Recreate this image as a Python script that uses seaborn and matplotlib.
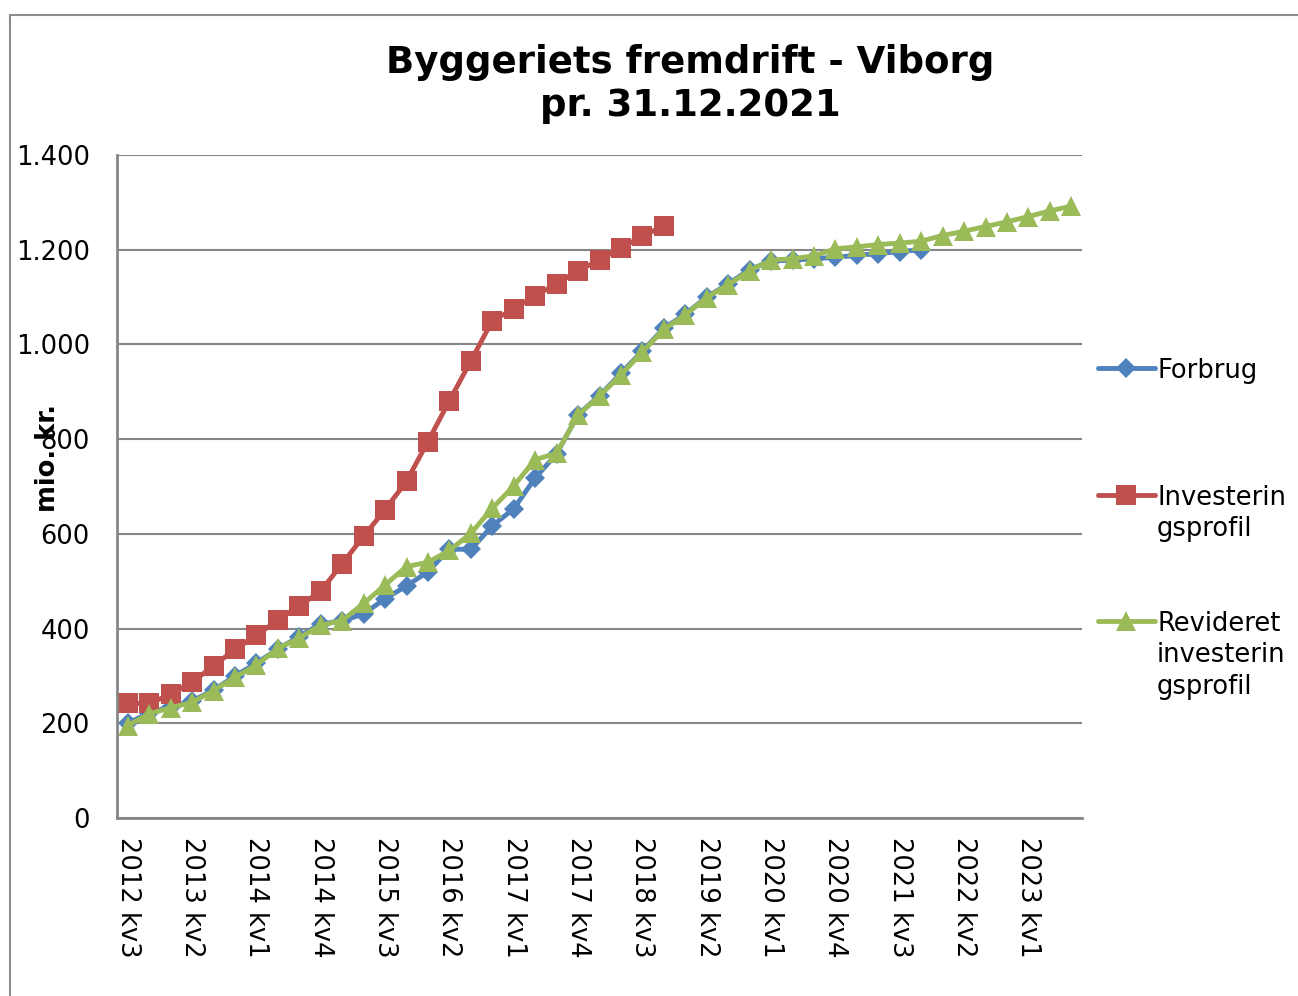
import numpy as np
import matplotlib
matplotlib.use("Agg")
import matplotlib.pyplot as plt
from matplotlib.lines import Line2D
from matplotlib.patches import Rectangle
from matplotlib.ticker import FuncFormatter
import seaborn as sns

W, H = 1298, 996

# kvartaler 2012 kv3 .. 2023 kv3
quarters = [f"{y} kv{q}" for y in range(2012, 2024) for q in range(1, 5)][2:47]

# mio. kr.
forbrug = [200, 222, 235, 247, 270, 300, 327, 357, 383, 410,
           416, 431, 463, 490, 520, 568, 567, 617, 653, 718,
           769, 852, 892, 939, 986, 1034, 1064, 1100, 1128, 1158,
           1176, 1178, 1181, 1184, 1188, 1192, 1196, 1200]
investering = [242, 242, 261, 287, 321, 356, 386, 418, 448, 479,
               537, 595, 651, 711, 795, 881, 965, 1050, 1075, 1103,
               1128, 1155, 1179, 1204, 1228, 1251]
revideret = [195, 220, 233, 244, 269, 297, 323, 358, 380, 407,
             417, 453, 492, 531, 540, 565, 601, 654, 701, 757,
             770, 851, 891, 936, 984, 1032, 1062, 1099, 1126, 1156,
             1178, 1181, 1187, 1202, 1206, 1211, 1214, 1218, 1230, 1239,
             1249, 1259, 1270, 1282, 1292]

sns.set_style("white")
plt.rcParams['font.family'] = ['DejaVu Sans']
plt.rcParams['text.color'] = 'black'
plt.rcParams['xtick.color'] = 'black'
plt.rcParams['ytick.color'] = 'black'
FS = 18.5
GRAY = '#868686'

fig = plt.figure(figsize=(W / 100, H / 100), dpi=100)
ax = fig.add_axes([117 / W, 1 - 818 / H, (1082 - 117) / W, (818 - 155) / H])

series = [
    ("Forbrug", forbrug, "#4F81BD", "D", 10.5),
    ("Investerin\ngsprofil", investering, "#C0504D", "s", 14),
    ("Revideret\ninvesterin\ngsprofil", revideret, "#9BBB59", "^", 15),
]
for name, vals, color, marker, ms in series:
    sns.lineplot(x=np.arange(len(vals)), y=vals, ax=ax, color=color, lw=3.5,
                 marker=marker, markersize=ms, markeredgewidth=0, legend=False)

ax.set_xlim(-0.5, len(quarters) - 0.5)
ax.set_ylim(0, 1400)
ax.set_yticks(range(0, 1401, 200))
ax.yaxis.set_major_formatter(FuncFormatter(lambda v, p: f"{int(v):,}".replace(",", ".")))
ax.grid(axis='y', color=GRAY, lw=1.5)
ax.set_axisbelow(True)
for s in ['top', 'right']:
    ax.spines[s].set_visible(False)
for s in ['left', 'bottom']:
    ax.spines[s].set_color(GRAY)
    ax.spines[s].set_linewidth(2)

pos = list(range(0, len(quarters), 3))
ax.set_xticks(pos)
ax.set_xticklabels([quarters[i] for i in pos], rotation=-90)
ax.set_xticks(np.arange(-0.5, len(quarters), 1), minor=True)
ax.tick_params(axis='x', which='major', length=0, pad=14, labelsize=FS, labelcolor='black')
ax.tick_params(axis='x', which='minor', length=6, width=1.5, color=GRAY, direction='out')
ax.tick_params(axis='y', length=6.5, width=1.5, color=GRAY, pad=13, labelsize=FS,
               labelcolor='black')
ax.set_xlabel('')
ax.set_ylabel('')

# titel og aksetitel
fig.text(690 / W, 1 - 73 / H, "Byggeriets fremdrift - Viborg", ha='center', va='baseline',
         fontsize=26.7, fontweight='bold')
fig.text(690 / W, 1 - 116 / H, "pr. 31.12.2021", ha='center', va='baseline',
         fontsize=26.7, fontweight='bold')
fig.text(48 / W, 1 - 458 / H, "mio. kr.", rotation=90, ha='center', va='center',
         fontsize=FS, fontweight='bold')

# forklaring til højre
for (name, vals, color, marker, ms), ypx in zip(series, [368, 495, 621]):
    yf = 1 - ypx / H
    fig.add_artist(Line2D([1098 / W, 1155 / W], [yf, yf], color=color, lw=3.5,
                          transform=fig.transFigure))
    fig.add_artist(Line2D([1126 / W], [yf], color=color, marker=marker, markersize=ms,
                          markeredgewidth=0, transform=fig.transFigure))
    fig.text(1157 / W, 1 - (ypx - 10) / H, name, ha='left', va='top',
             fontsize=FS, linespacing=1.27)

# diagramramme
fig.add_artist(Rectangle((10 / W, -0.05), 1.2, 1 - 15 / H + 0.05, transform=fig.transFigure,
                         fill=False, edgecolor='#8c8c8c', lw=1.5, clip_on=False))

fig.savefig("out.png", dpi=100, facecolor='white')
